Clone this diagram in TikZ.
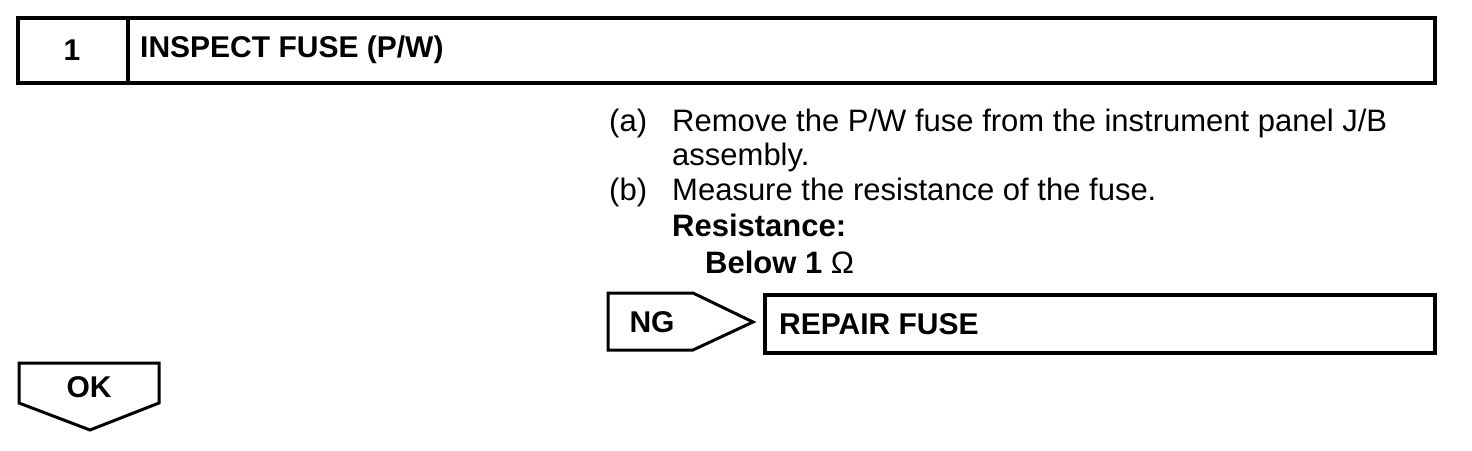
\documentclass[tikz,border=0pt]{standalone}
\usepackage{fontspec}
\setmainfont{Liberation Sans}
\begin{document}
\begin{tikzpicture}[x=1pt,y=-1pt,
  thick box/.style={draw=black,line width=4pt},
  tag/.style={draw=black,line width=3pt,line join=miter},
  body/.style={font=\fontsize{31}{36}\selectfont,inner sep=0pt,anchor=base west},
  bodybold/.style={body,font=\fontsize{31}{36}\selectfont\bfseries},
  bold/.style={font=\fontsize{30}{36}\selectfont\bfseries,inner sep=0pt}]
\useasboundingbox (0,0) rectangle (1472,450);
% header
\draw[thick box] (18,18) rectangle (1435,83);
\draw[thick box] (128,18) -- (128,83);
\node[bold] (num) at (72,50) {1};
\node[bold,anchor=west] (title) at (140,50) {INSPECT FUSE (P/W)};
% instructions
\node[body] (la) at (609,131) {(a)};
\node[body] (ta) at (672,131) {Remove the P/W fuse from the instrument panel J/B};
\node[body] (ta2) at (672,165) {assembly.};
\node[body] (lb) at (609,200) {(b)};
\node[body] (tb) at (672,200) {Measure the resistance of the fuse.};
\node[bodybold] (res) at (672,236) {Resistance:};
\node[bodybold] (below) at (705,273) {Below 1 {\mdseries Ω}};
% NG
\draw[tag] (608,293) -- (693,293) -- (753,322) -- (693,350) -- (608,350) -- cycle;
\node[bold] (ng) at (652,322) {NG};
\draw[thick box] (765,295) rectangle (1435,353);
\node[bold,anchor=west] (repair) at (779,324) {REPAIR FUSE};
% OK
\draw[tag] (19,363) -- (159,363) -- (159,403) -- (90,430) -- (19,403) -- cycle;
\node[bold] (ok) at (89,387) {OK};
\end{tikzpicture}
\end{document}
